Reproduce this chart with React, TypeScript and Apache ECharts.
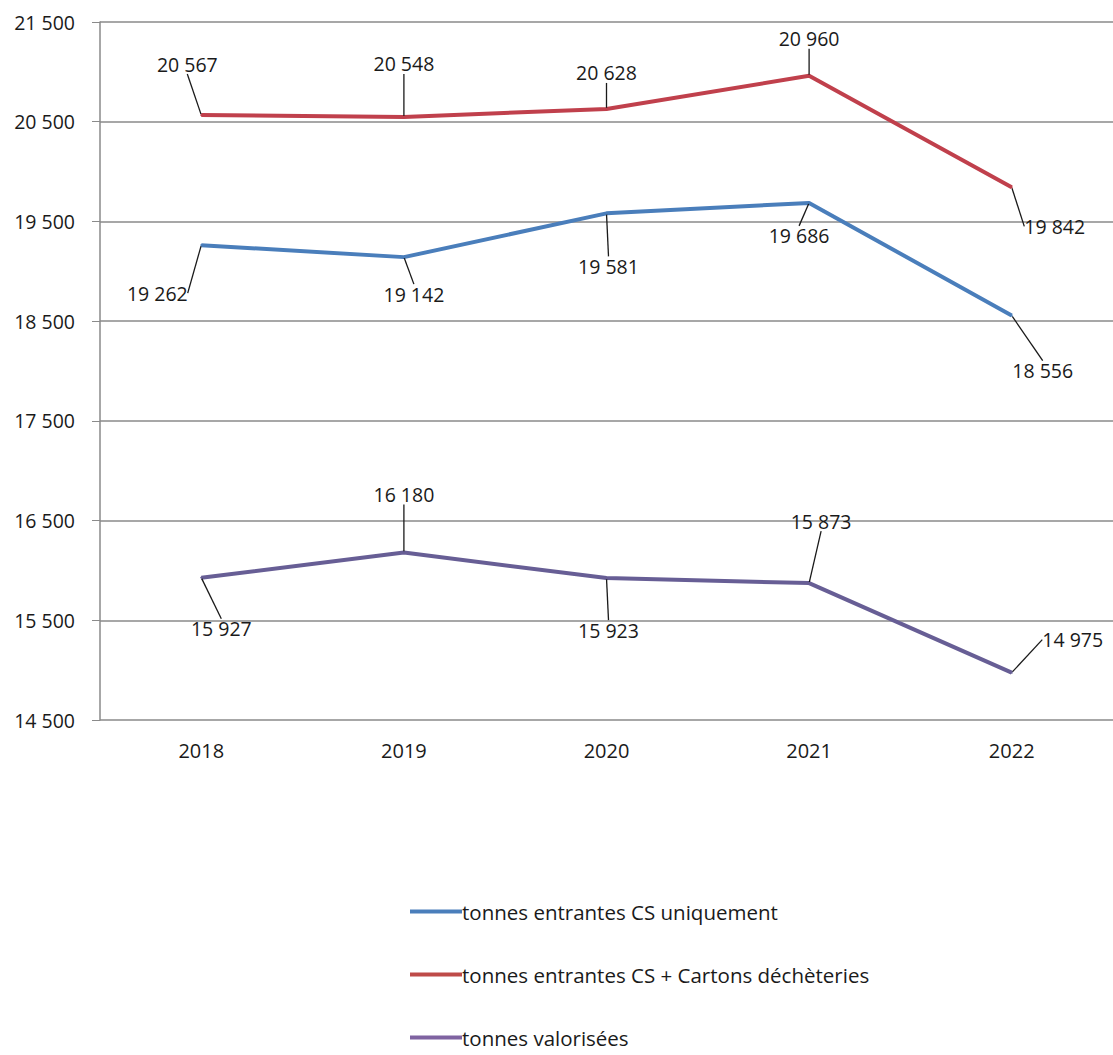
import React, { useEffect, useRef } from "react";
import * as echarts from "echarts";

const years = ["2018", "2019", "2020", "2021", "2022"];
const seriesNames = [
  "tonnes entrantes CS uniquement",
  "tonnes entrantes CS + Cartons déchèteries",
  "tonnes valorisées",
];
const csOnly = [19262, 19142, 19581, 19686, 18556];
const csCartons = [20567, 20548, 20628, 20960, 19842];
const valorisees = [15927, 16180, 15923, 15873, 14975];

const colors = ["#4A7EBB", "#C0404C", "#675E95"];
const legendColors = ["#4A7EBB", "#BE4B48", "#7F63A1"];

// label offsets (layout only)
const labelOffsets: number[][][] = [
  [[-44, 48], [10, 37], [2, 53], [-10, 33], [31, 55]],
  [[-14, -51], [0, -53], [0, -36], [0, -37], [43, 39]],
  [[20, 51], [0, -58], [2, 52], [12, -62], [61, -33]],
];

const FONT = "Open Sans";

const fmt = (v: number) => {
  const s = String(Math.round(v));
  return s.replace(/\B(?=(\d{3})+(?!\d))/g, " ");
};

export default function App() {
  const ref = useRef<HTMLDivElement>(null);
  useEffect(() => {
    if (!ref.current) return;
    const chart = echarts.init(ref.current, undefined, { renderer: "svg" });
    const datasets = [csOnly, csCartons, valorisees];
    chart.setOption({
      animation: false,
      backgroundColor: "#ffffff",
      grid: { left: 100, top: 22, width: 1019, height: 698, containLabel: false },
      legend: {
        orient: "vertical",
        left: 405,
        top: 896,
        itemGap: 42,
        itemWidth: 52,
        itemHeight: 4,
        icon: "rect",
        textStyle: { fontFamily: FONT, fontSize: 20.5, color: "#1a1a1a", padding: [0, 0, 0, -5] },
        data: seriesNames.map((n, i) => ({ name: n, itemStyle: { color: legendColors[i] } })),
      },
      xAxis: {
        type: "category",
        data: years,
        boundaryGap: true,
        axisLine: { show: false },
        axisTick: { show: false },
        axisLabel: { fontFamily: FONT, fontSize: 20, color: "#1a1a1a", margin: 20 },
      },
      yAxis: {
        type: "value",
        min: 14500,
        max: 21500,
        interval: 1000,
        axisLine: { show: true, lineStyle: { color: "#8a8a8a", width: 1.5 } },
        axisTick: { show: true, length: 8, lineStyle: { color: "#8a8a8a" } },
        splitLine: { show: true, lineStyle: { color: "#8a8a8a", width: 1.5 } },
        axisLabel: {
          fontFamily: FONT,
          fontSize: 19.5,
          color: "#1a1a1a",
          margin: 25,
          formatter: (v: number) => fmt(v),
        },
      },
      series: datasets.map((d, si) => ({
        name: seriesNames[si],
        type: "line",
        data: d,
        symbol: "circle",
        symbolSize: 2,
        showSymbol: true,
        z: si === 1 ? 3 : 2,
        lineStyle: { color: colors[si], width: 4 },
        itemStyle: { color: colors[si] },
        label: {
          show: true,
          position: "inside",
          fontFamily: FONT,
          fontSize: 19.5,
          color: "#1a1a1a",
          formatter: (p: any) => fmt(p.value),
        },
        labelLine: { show: true, lineStyle: { color: "#1a1a1a", width: 1.3 } },
        labelLayout: (p: any) => {
          const o = labelOffsets[si][p.dataIndex];
          return { dx: o[0], dy: o[1] };
        },
      })),
    });
    return () => chart.dispose();
  }, []);
  return (
    <div
      ref={ref}
      style={{ position: "fixed", left: 0, top: 0, width: 1113, height: 1055, background: "#fff" }}
    />
  );
}
